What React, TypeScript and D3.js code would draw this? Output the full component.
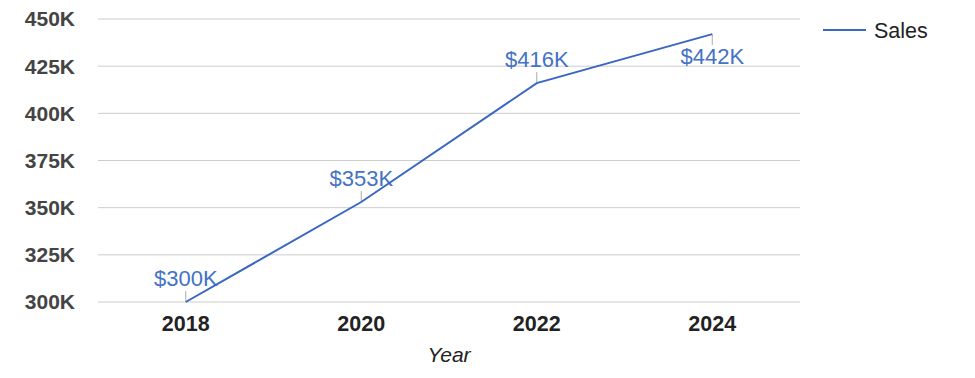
import React from "react";
import * as d3 from "d3";

const years = ["2018", "2020", "2022", "2024"];
const sales = [300, 353, 416, 442];
const yTicks = [300, 325, 350, 375, 400, 425, 450];
const seriesName = "Sales";
const xTitle = "Year";

const W = 975;
const H = 378;
const M = { left: 98, right: 800, top: 19, bottom: 302 };
const FONT = "'Liberation Sans', Arial, sans-serif";
const LINE = "#3a66c4";
const LABEL = "#4472c4";

export default function App() {
  const x = d3.scaleBand<string>().domain(years).range([M.left, M.right]);
  const y = d3.scaleLinear().domain([300, 450]).range([M.bottom, M.top]);
  const cx = (d: string) => (x(d) ?? 0) + x.bandwidth() / 2;
  const pts = years.map((yr, i) => ({ yr, v: sales[i] }));
  const line = d3
    .line<{ yr: string; v: number }>()
    .x((d) => cx(d.yr))
    .y((d) => y(d.v));

  return (
    <svg
      width={W}
      height={H}
      style={{ position: "absolute", left: 0, top: 0, fontFamily: FONT }}
    >
      <rect width={W} height={H} fill="#fff" />
      {yTicks.map((t) => (
        <g key={t}>
          <line x1={M.left} x2={M.right} y1={y(t)} y2={y(t)} stroke="#cccccc" strokeWidth={1} />
          <text
            x={75}
            y={y(t)}
            dy="0.35em"
            textAnchor="end"
            fontSize={21}
            fontWeight="bold"
            fill="#444"
          >
            {t}K
          </text>
        </g>
      ))}
      {years.map((yr) => (
        <text
          key={yr}
          x={cx(yr)}
          y={331}
          textAnchor="middle"
          fontSize={21.5}
          fontWeight="bold"
          fill="#222"
        >
          {yr}
        </text>
      ))}
      <text x={(M.left + M.right) / 2} y={362} textAnchor="middle" fontSize={21} fontStyle="italic" fill="#222">
        {xTitle}
      </text>
      {pts.map((p) => {
        const py = y(p.v);
        const below = py - 30 < M.top;
        return (
          <g key={p.yr}>
            <line
              x1={cx(p.yr)}
              x2={cx(p.yr)}
              y1={py}
              y2={below ? py + 11 : py - 11}
              stroke="#aaa"
              strokeWidth={1}
            />
            <text
              x={cx(p.yr)}
              y={below ? py + 30 : py - 16}
              textAnchor="middle"
              fontSize={22}
              fill={LABEL}
            >
              ${p.v}K
            </text>
          </g>
        );
      })}
      <path d={line(pts) ?? ""} fill="none" stroke={LINE} strokeWidth={2} />
      <line x1={823} x2={866} y1={30} y2={30} stroke={LINE} strokeWidth={2} />
      <text x={874} y={30} dy="0.35em" fontSize={21.5} fill="#222">
        {seriesName}
      </text>
    </svg>
  );
}
